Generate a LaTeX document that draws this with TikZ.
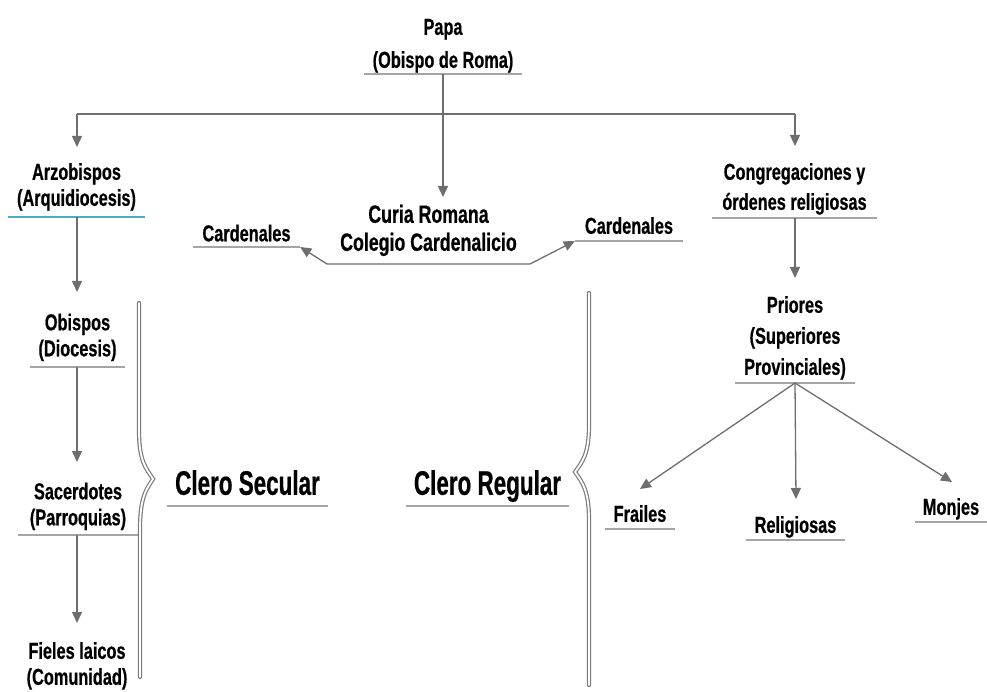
\documentclass[tikz,border=0pt]{standalone}
\usepackage{fontspec}
\setmainfont{Liberation Sans}
\newfontfamily\lblfont{Liberation Sans}[FakeStretch=0.71, FakeBold=0.6]
\newfontfamily\clerofont{Liberation Sans}[FakeStretch=0.66, FakeBold=0.6]
\usetikzlibrary{arrows.meta}
\definecolor{conncol}{HTML}{6E6E6E}
\definecolor{ulgray}{HTML}{A5A5A5}
\definecolor{ulteal}{HTML}{4BACC6}
\definecolor{bracecol}{HTML}{7C7C7C}
\tikzset{
  lbl/.style={anchor=south, inner xsep=0pt, text depth=0pt, align=center,
    font=\lblfont\bfseries\fontsize{23}{26}\selectfont},
  lsp/.style={font=\lblfont\bfseries\fontsize{23}{#1}\selectfont},
  curiafont/.style={font=\lblfont\bfseries\fontsize{25}{28}\selectfont},
  bigl/.style={font=\clerofont\bfseries\fontsize{34}{40}\selectfont},
  ul/.style={append after command={(\tikzlastnode.south west) edge[draw=#1, line width=1.6pt] (\tikzlastnode.south east)}},
  ul/.default=ulgray,
  conn/.style={draw=conncol, line width=1.3pt},
  arr/.style={conn, -{Triangle[length=11pt,width=10pt]}},
  brace/.style={draw=bracecol, double=white, double distance=1.8pt, line width=1.2pt, line cap=round}
}
\begin{document}
\begin{tikzpicture}[x=1pt,y=-1pt]
\useasboundingbox (0,0) rectangle (987,692);

% labels
\node[lbl, lsp=33, ul, minimum width=158pt, inner ysep=6pt] (papa) at (443,74) {Papa\\(Obispo de Roma)};
\node[lbl, ul=ulteal, minimum width=137pt, inner ysep=11pt] (arz) at (76.5,217) {Arzobispos\\(Arquidiocesis)};
\node[lbl, ul, minimum width=95pt, inner ysep=10.5pt] (obi) at (77.5,367) {Obispos\\(Diocesis)};
\node[lbl, ul, minimum width=120pt, inner ysep=9.5pt] (sac) at (78,535) {Sacerdotes\\(Parroquias)};
\node[lbl, inner ysep=0pt] (fie) at (77,685) {Fieles laicos\\(Comunidad)};
\node[lbl, curiafont, minimum width=203pt, inner ysep=13pt] (curia) at (428.5,264) {Curia Romana\\Colegio Cardenalicio};
\node[lbl, ul, minimum width=107pt, inner ysep=5.5pt] (cardL) at (246.5,247) {Cardenales};
\node[lbl, ul, minimum width=108pt, inner ysep=7pt] (cardR) at (629,241) {Cardenales};
\node[lbl, lsp=30, ul, minimum width=165pt, inner ysep=8pt] (cong) at (794.5,218) {Congregaciones y\\órdenes religiosas};
\node[lbl, lsp=31, ul, minimum width=120pt, inner ysep=8pt] (prio) at (795,383) {Priores\\(Superiores\\Provinciales)};
\node[lbl, ul, minimum width=70pt, inner ysep=7pt] (frai) at (640,529) {Frailes};
\node[lbl, ul, minimum width=99pt, inner ysep=7pt] (reli) at (795.5,540) {Religiosas};
\node[lbl, ul, minimum width=72pt, inner ysep=7pt] (monj) at (951,522) {Monjes};
\node[lbl, bigl, ul, minimum width=161pt, inner ysep=11pt] (cleroS) at (247.5,506) {Clero Secular};
\node[lbl, bigl, ul, minimum width=163pt, inner ysep=11pt] (cleroR) at (487.5,506) {Clero Regular};

% connector points
\coordinate (hub) at (443,114);
\coordinate (hl) at (77,114);
\coordinate (hr) at (795,114);
\coordinate (tArz) at (77,147);
\coordinate (tCur) at (443,197);
\coordinate (tCong) at (795,146);
\coordinate (tObi) at (77,292);
\coordinate (tSac) at (77,462);
\coordinate (tFie) at (77,623);
\coordinate (tPrio) at (795,278);
\coordinate (tFrai) at (640,489);
\coordinate (tReli) at (796,499);
\coordinate (tMonj) at (952,482);
\coordinate (cL) at (327,264);
\coordinate (cR) at (530,264);

\draw[conn] (papa.south) -- (hub);
\draw[conn] (hl) -- (hr);
\draw[arr] (hl) -- (tArz);
\draw[arr] (hub) -- (tCur);
\draw[arr] (hr) -- (tCong);
\draw[arr] (arz.south) ++(0.5,0) -- (tObi);
\draw[arr] (obi.south) ++(-0.5,0) -- (tSac);
\draw[arr] (sac.south) ++(-1,0) -- (tFie);
\draw[arr] (cong.south) ++(0.5,0) -- (tPrio);
\draw[arr] (prio.south) -- (tFrai);
\draw[arr] (prio.south) -- (tReli);
\draw[arr] (prio.south) -- (tMonj);
\draw[conn, {Triangle[length=11pt,width=10pt]}-{Triangle[length=11pt,width=10pt]}]
  (cardL.south east) -- (cL) -- (cR) -- (cardR.south west);

% braces
\draw[brace] (139,303) -- (139,430) .. controls (139,462) and (146,468) .. (153,479)
  .. controls (146,490) and (140,497) .. (140,530) -- (140,677);
\draw[brace] (589,293) -- (589,425) .. controls (589,455) and (582,462) .. (575,472)
  .. controls (582,482) and (589,490) .. (589,520) -- (589,685);
\end{tikzpicture}
\end{document}
